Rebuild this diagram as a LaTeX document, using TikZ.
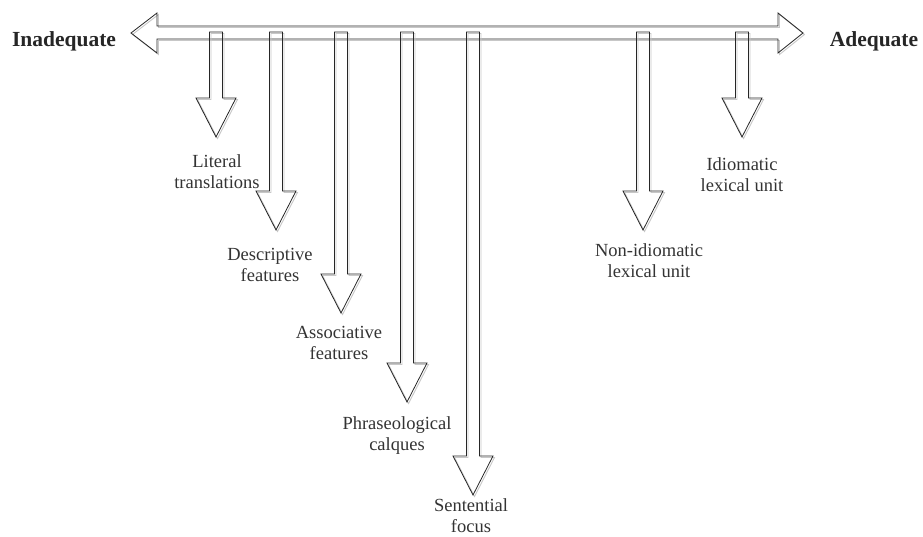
\documentclass[tikz,border=0pt]{standalone}
\usepackage{fontspec}
\setmainfont{Liberation Serif}
\usepackage{tikz}
\usetikzlibrary{positioning}
\tikzstyle{blk} = [draw=black!85, line width=0.8pt, line join=miter]
\tikzstyle{shd} = [draw=black!22, line width=0.9pt, line join=miter]
\tikzstyle{lbl} = [align=center, inner sep=0pt, text=black!80, font=\fontsize{18.5}{21}\selectfont]
\tikzstyle{pole} = [anchor=base, inner sep=0pt, text=black!85, font=\bfseries\fontsize{21.5}{24}\selectfont]

\begin{document}
\begin{tikzpicture}[x=1pt, y=-1pt]
		\useasboundingbox (0,0) rectangle (923,536);

		% scale from inadequate to adequate
		\foreach \s/\st in {{(1.5,1.5)}/shd, {(0,0)}/blk}
		{
				\draw[\st, shift=\s] (131,33) -- (157,13) -- (157,26) -- (778,26) -- (778,13) -- (803,33)
					-- (778,53) -- (778,39) -- (157,39) -- (157,53) -- cycle;
			}
		\node[pole] (inadeq) at (64,46) {Inadequate};
		\node[pole] (adeq) at (874,46) {Adequate};

		% the seven kinds of equivalent
		\foreach \x/\len in {216/105, 276/198, 341/281, 407/370, 473/463, 643/198, 742/105}
		{
				\draw[shd, shift={(\x+1.5,33.5)}] (-6.5,0) -- ({-6.5},{\len-39}) -- ({-20},{\len-39}) -- (0,\len)
					-- (20,{\len-39}) -- (6.5,{\len-39}) -- (6.5,0) -- cycle;
				\draw[blk, shift={(\x,32)}] (-6.5,0) -- ({-6.5},{\len-39}) -- ({-20},{\len-39}) -- (0,\len)
					-- (20,{\len-39}) -- (6.5,{\len-39}) -- (6.5,0) -- cycle;
			}

		\node[lbl] (lit)   at (217,172) {Literal\\translations};
		\node[lbl] (desc)  at (270,265) {Descriptive\\features};
		\node[lbl] (assoc) at (339,343) {Associative\\features};
		\node[lbl] (phras) at (397,436) {Phraseological\\calques};
		\node[lbl] (sent)  at (471,516) {Sentential\\focus};
		\node[lbl] (nonid) at (649,261) {Non-idiomatic\\lexical unit};
		\node[lbl] (idiom) at (742,175) {Idiomatic\\lexical unit};
	\end{tikzpicture}
\end{document}
